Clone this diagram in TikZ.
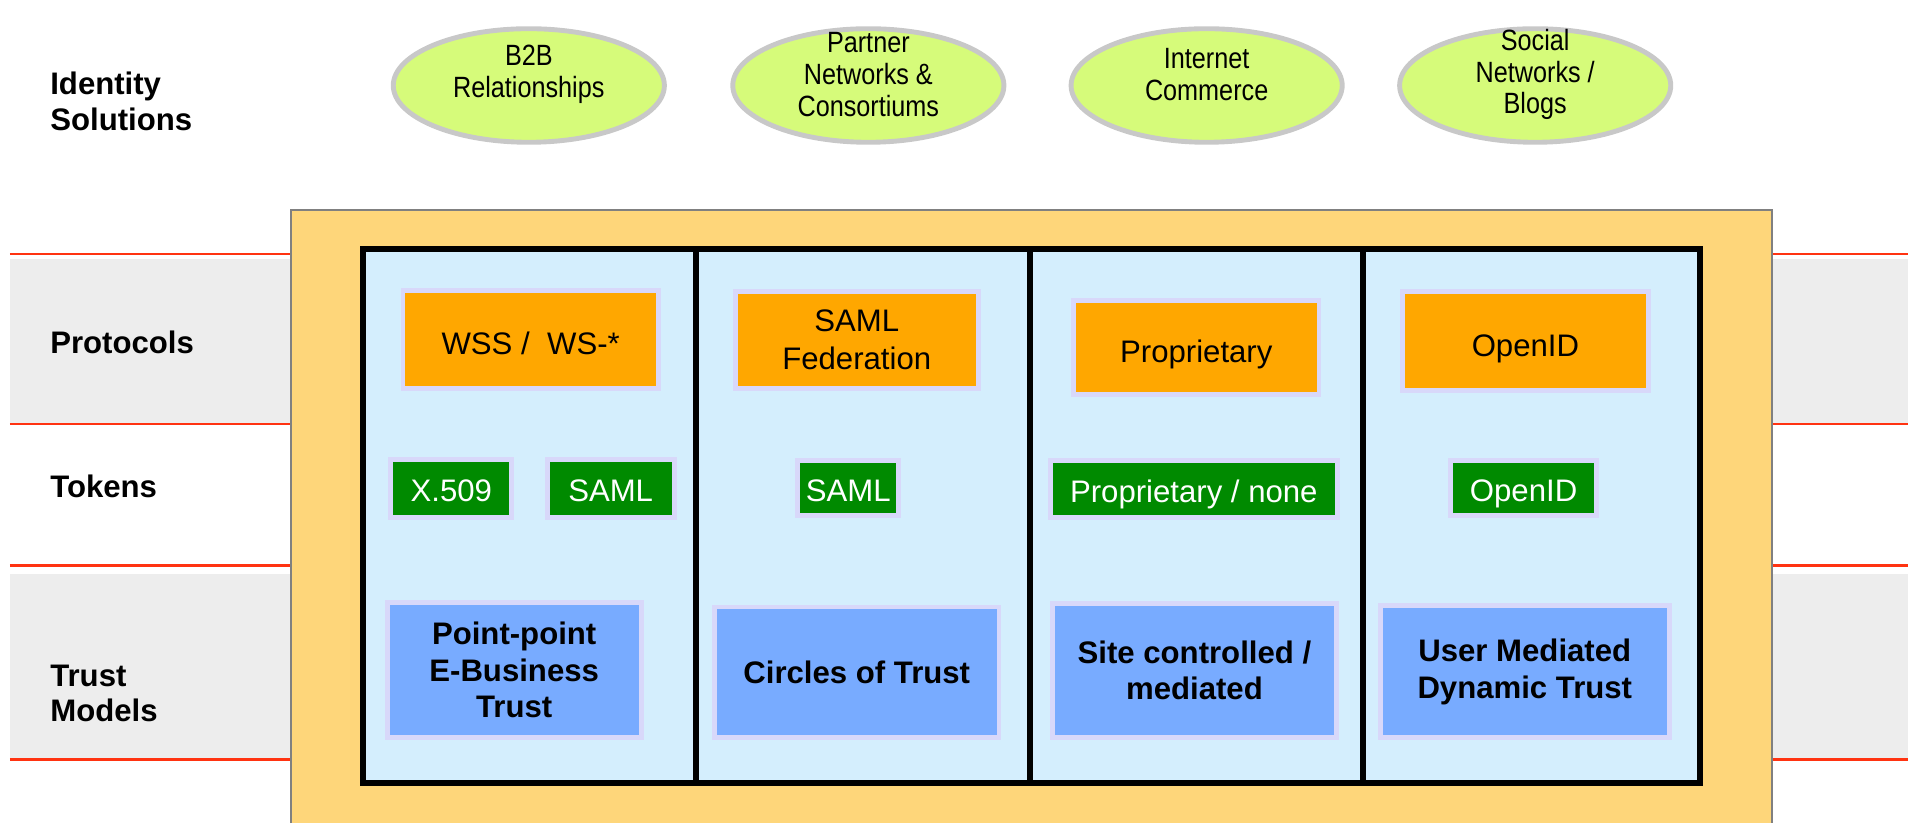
\documentclass[tikz,border=0pt]{standalone}
\usepackage{fontspec}
\setmainfont{Liberation Sans}
\newfontfamily\condfont[FakeStretch=0.86]{Liberation Sans}
\usetikzlibrary{shapes.geometric}
\definecolor{orangebg}{HTML}{FED67A}
\definecolor{lightblue}{HTML}{D4EEFD}
\definecolor{protocolorange}{HTML}{FFA700}
\definecolor{tokengreen}{HTML}{008A00}
\definecolor{trustblue}{HTML}{78ABFF}
\definecolor{lavender}{HTML}{D8D8FA}
\definecolor{idgreen}{HTML}{D6FB7A}
\definecolor{idborder}{HTML}{C8C8C8}
\definecolor{bandgray}{HTML}{EDEDED}
\definecolor{bandred}{HTML}{FF3311}
\tikzset{
  rowlabel/.style={anchor=west, align=left, inner sep=0pt, font=\fontsize{25.5}{29}\selectfont\bfseries},
  idsol/.style={ellipse, draw=idborder, line width=4pt, fill=idgreen, inner sep=0pt,
    minimum width=222pt, minimum height=93pt},
  idtext/.style={align=center, inner sep=0pt, font=\condfont\fontsize{24}{26}\selectfont},
  inbox/.style={draw=lavender, line width=4pt, inner sep=0pt, align=center},
  protobox/.style={inbox, fill=protocolorange, font=\fontsize{25.5}{31}\selectfont},
  protoline/.style={protobox, align=none, text height=24pt, text depth=0pt},
  tokenbox/.style={inbox, fill=tokengreen, text=white, font=\fontsize{25.5}{30}\selectfont,
    align=none, text height=21.5pt, text depth=0pt},
  trustbox/.style={inbox, fill=trustblue, font=\fontsize{25.5}{30}\selectfont\bfseries},
  redline/.style={draw=bandred, line width=2pt},
  colframe/.style={draw=black, line width=5pt},
}
\begin{document}
\begin{tikzpicture}[x=1pt, y=-1pt]
\useasboundingbox (0,0) rectangle (1568,674);
% bands
\fill[bandgray] (8,212) rectangle (238,347);
\fill[bandgray] (8,470) rectangle (238,622);
\fill[bandgray] (1451,212) rectangle (1562,347);
\fill[bandgray] (1451,470) rectangle (1562,622);
\foreach \yy in {208,347,463,622}{
  \draw[redline] (8,\yy) -- (238,\yy);
  \draw[redline] (1451,\yy) -- (1562,\yy);
}
% orange background
\fill[orangebg] (238,172) rectangle (1451,674);
\draw[gray, line width=1.5pt] (238,674) -- (238,172) -- (1451,172) -- (1451,674);
% columns
\fill[lightblue] (297,204) rectangle (1392,641);
\draw[colframe] (297,204) rectangle (1392,641);
\foreach \xx in {570,843,1116}{
  \draw[colframe] (\xx,204) -- (\xx,641);
}
% row labels
\node[rowlabel] (lid) at (41,83) {Identity\\Solutions};
\node[rowlabel] (lprot) at (41,280) {Protocols};
\node[rowlabel] (ltok) at (41,398) {Tokens};
\node[rowlabel] (ltrust) at (41,568) {Trust\\Models};
% identity solutions
\node[idsol] (e1) at (433,70) {};
\node[idsol] (e2) at (711,70) {};
\node[idsol] (e3) at (988,70) {};
\node[idsol] (e4) at (1257,70) {};
\node[idtext] (e1t) at ([yshift=9pt]e1.center) {B2B\\Relationships};
\node[idtext] (e2t) at ([yshift=9pt]e2.center) {Partner\\Networks \&\\Consortiums};
\node[idtext] (e3t) at ([yshift=9pt]e3.center) {Internet\\Commerce};
\node[idtext] (e4t) at ([yshift=9pt]e4.center) {Social\\Networks /\\Blogs};
% column 1
\node[protoline, minimum width=209pt, minimum height=80pt] (p1) at (434.5,278) {WSS /\ \ WS-*};
\node[tokenbox, minimum width=99pt, minimum height=48pt] (t1a) at (369.5,400) {X.509};
\node[tokenbox, minimum width=104pt, minimum height=48pt] (t1b) at (500,400) {SAML};
\node[trustbox, minimum width=208pt, minimum height=111pt] (m1) at (421,548.5) {Point-point\\E-Business\\Trust};
% column 2
\node[protobox, minimum width=199pt, minimum height=79pt] (p2) at (701.5,278.5) {SAML\\Federation};
\node[tokenbox, minimum width=83pt, minimum height=45pt] (t2) at (694.5,399.5) {SAML};
\node[trustbox, minimum width=233pt, minimum height=107pt] (m2) at (701.5,550.5) {Circles of Trust};
% column 3
\node[protoline, minimum width=201pt, minimum height=77pt] (p3) at (979.5,284.5) {Proprietary};
\node[tokenbox, minimum width=235pt, minimum height=47pt] (t3) at (977.5,400.5) {Proprietary / none};
\node[trustbox, minimum width=232pt, minimum height=110pt] (m3) at (978,549) {Site controlled /\\mediated};
% column 4
\node[protoline, minimum width=202pt, minimum height=81pt] (p4) at (1249,279.5) {OpenID};
\node[tokenbox, minimum width=119pt, minimum height=45pt] (t4) at (1247.5,399.5) {OpenID};
\node[trustbox, minimum width=237pt, minimum height=108pt] (m4) at (1248.5,550) {User Mediated\\Dynamic Trust};
\end{tikzpicture}
\end{document}
